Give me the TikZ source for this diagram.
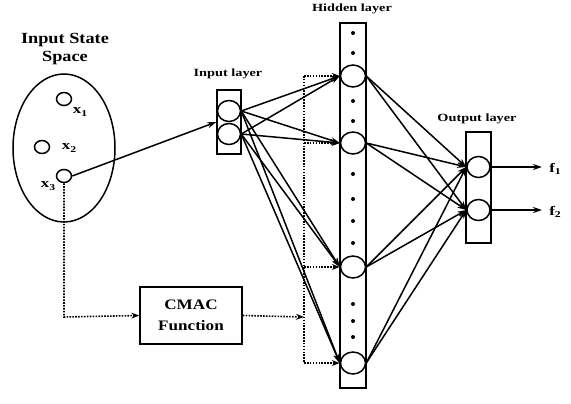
\documentclass[tikz,border=0pt]{standalone}
\usepackage{fontspec}
\setmainfont{Liberation Serif}
\newfontfamily\lblfont[FakeStretch=1.3]{Liberation Serif}
\newfontfamily\bigfont[FakeStretch=1.18]{Liberation Serif}
\usetikzlibrary{arrows.meta,shapes.geometric}
\begin{document}
\begin{tikzpicture}[x=1pt,y=-1pt,
  line width=1.5pt,
  neuron/.style={draw,ellipse,inner sep=0pt,minimum width=23pt,minimum height=21pt},
  hneuron/.style={draw,ellipse,inner sep=0pt,minimum width=25pt,minimum height=22pt,fill=white},
  smallc/.style={draw,ellipse,inner sep=0pt,minimum width=15pt,minimum height=13pt},
  layerbox/.style={draw,inner sep=0pt},
  conn/.style={-{Stealth[length=9pt,width=6pt]}},
  dotline/.style={line width=1.6pt,dash pattern=on 1.6pt off 1.3pt},
  dotarrow/.style={dotline,-{Stealth[length=8pt,width=6pt,line width=0pt]}},
  lbl/.style={font=\lblfont\bfseries\fontsize{11}{12}\selectfont,inner sep=0pt},
  title/.style={font=\bigfont\bfseries\fontsize{15.5}{17}\selectfont,inner sep=0pt},
  var/.style={font=\lblfont\bfseries\fontsize{13}{14}\selectfont,inner sep=0pt},
  hdot/.style={circle,fill,inner sep=0pt,minimum size=4pt}
]
\useasboundingbox (0,0) rectangle (571,404);

% Input state space
\node[title] (t1) at (65,40) {Input State};
\node[title] (t2) at (65,58) {Space};
\node[draw,ellipse,minimum width=102pt,minimum height=148pt,inner sep=0pt] (space) at (64,148) {};
\node[smallc] (x1) at (64,99) {};
\node[smallc] (x2) at (42,147) {};
\node[smallc] (x3) at (64,176) {};
\node[var] (lx1) at (80,112) {x\raisebox{-2.5pt}{\fontsize{9}{10}\selectfont 1}};
\node[var] (lx2) at (69,148) {x\raisebox{-2.5pt}{\fontsize{9}{10}\selectfont 2}};
\node[var] (lx3) at (48,186) {x\raisebox{-2.5pt}{\fontsize{9}{10}\selectfont 3}};

% Input layer
\node[lbl] (til) at (228,74) {Input layer};
\node[layerbox,minimum width=24pt,minimum height=64pt] (inl) at (229,122) {};
\node[neuron] (i1) at (229,111) {};
\node[neuron] (i2) at (229,134) {};

% Hidden layer
\node[lbl] (thl) at (352,9) {Hidden layer};
\node[layerbox,minimum width=26pt,minimum height=365pt] (hl) at (353,205.5) {};
\foreach \y [count=\k] in {33,53,101,121,174,199,221,243,304,321,337}
  \node[hdot] (d\k) at (353,\y) {};
\node[hneuron] (h1) at (353,76) {};
\node[hneuron] (h2) at (353,143) {};
\node[hneuron] (h3) at (353,267) {};
\node[hneuron] (h4) at (353,363) {};

% Output layer
\node[lbl] (tol) at (477,119) {Output layer};
\node[layerbox,minimum width=25pt,minimum height=111pt] (ol) at (478.5,187.5) {};
\node[neuron] (o1) at (478.5,167) {};
\node[neuron] (o2) at (478.5,210) {};

% CMAC box
\node[draw,minimum width=102pt,minimum height=57pt,inner sep=0pt,align=center,
      font=\bigfont\bfseries\fontsize{14.5}{21}\selectfont] (cmac) at (191,315.5) {CMAC\\Function};

% connectors
\draw[conn] (x3.east) -- (inl.west);
\foreach \i in {i1,i2}
  \foreach \h in {h1,h2,h3,h4}
    \draw[conn] (\i.east) -- (\h.west);
\foreach \h in {h1,h2,h3,h4}
  \foreach \o in {o1,o2}
    \draw[conn] (\h.east) -- (\o.west);

% outputs
\coordinate (f1e) at (542,167);
\coordinate (f2e) at (542,210);
\draw[conn] (o1.east) -- (f1e);
\draw[conn] (o2.east) -- (f2e);
\node[var] (lf1) at (555,169) {f\raisebox{-2.5pt}{\fontsize{9}{10}\selectfont 1}};
\node[var] (lf2) at (555,212) {f\raisebox{-2.5pt}{\fontsize{9}{10}\selectfont 2}};

% dotted CMAC path
\coordinate (cc) at (64,317);
\coordinate (dv) at (304,317);
\coordinate (dt) at (304,76);
\coordinate (db) at (304,363);
\coordinate (d2) at (304,143);
\coordinate (d3) at (304,267);
\draw[dotarrow] (x3.south) -- (cc) -- (cmac.west);
\draw[dotarrow] (cmac.east) -- (dv);
\draw[dotline] (dt) -- (db);
\draw[dotarrow] (dt) -- (h1.west);
\draw[dotarrow] (d2) -- (h2.west);
\draw[dotarrow] (d3) -- (h3.west);
\draw[dotarrow] (db) -- (h4.west);
\end{tikzpicture}
\end{document}
